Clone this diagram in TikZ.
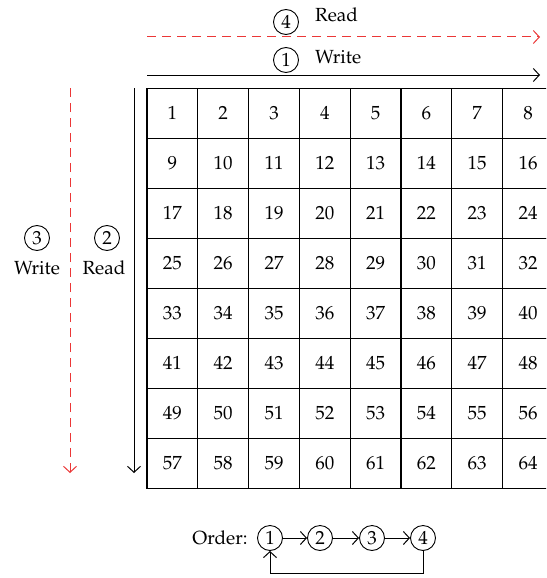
\documentclass[tikz,border=0pt]{standalone}
\usepackage[T1]{fontenc}
\usepackage{mathpazo}
\usetikzlibrary{arrows.meta}
\definecolor{readred}{RGB}{235,55,55}
\begin{document}
\begin{tikzpicture}[x=1pt,y=-1pt,
  every node/.style={font=\fontsize{19}{23}\selectfont},
  cell/.style={draw, line width=1.1pt, minimum width=50.8pt, minimum height=50pt, inner sep=0pt},
  tag/.style={circle, draw, line width=0.9pt, minimum size=25pt, inner sep=0pt},
  txt/.style={inner sep=0pt},
  flow/.style={line width=1pt, -{Straight Barb[length=6pt,width=13pt]}},
  redflow/.style={flow, readred, dash pattern=on 9pt off 6pt},
]
\useasboundingbox (0,0) rectangle (546,578);
\clip (0,0) rectangle (546,578);

% 8x8 matrix of indices
\foreach \r in {0,...,7}{
  \foreach \c in {0,...,7}{
    \pgfmathtruncatemacro\n{\r*8+\c+1}
    \node[cell] (c\n) at (147+50.8*\c+25.4, 88.3+50*\r+25) {\n};
  }
}

% row-wise passes along the top
\coordinate (rowA) at (147,75);
\coordinate (rowB) at (540,75);
\coordinate (rowC) at (147,37);
\coordinate (rowD) at (540,37);
\draw[flow] (rowA) -- (rowB);
\draw[redflow] (rowC) -- (rowD);
\node[tag] (t1) at (286,60) {1};
\node[txt, anchor=west] (w1) at (315,57) {Write};
\node[tag] (t4) at (286,22) {4};
\node[txt, anchor=west] (r4) at (315,15) {Read};

% column-wise passes on the left
\coordinate (colA) at (134,88);
\coordinate (colB) at (134,473);
\coordinate (colC) at (70,88);
\coordinate (colD) at (70,473);
\draw[flow] (colA) -- (colB);
\draw[redflow] (colC) -- (colD);
\node[tag] (t2) at (107,238) {2};
\node[txt] (r2) at (104,268) {Read};
\node[tag] (t3) at (37,238) {3};
\node[txt] (w3) at (37,268) {Write};

% cycle of passes
\node[txt] (ord) at (220,538) {Order:};
\node[tag] (o1) at (270,538) {1};
\node[tag] (o2) at (320,538) {2};
\node[tag] (o3) at (372,538) {3};
\node[tag] (o4) at (423,538) {4};
\draw[flow] (o1) -- (o2);
\draw[flow] (o2) -- (o3);
\draw[flow] (o3) -- (o4);
\coordinate (loop) at (0,573);
\draw[flow] (o4.south) -- (o4.south |- loop) -- (o1.south |- loop) -- (o1.south);
\end{tikzpicture}
\end{document}
